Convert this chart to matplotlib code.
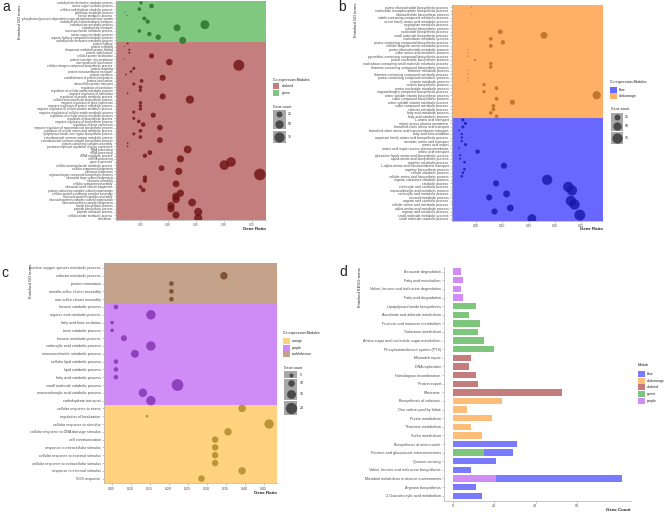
import matplotlib
matplotlib.use('Agg')
import matplotlib.pyplot as plt
from matplotlib.patches import Rectangle
import numpy as np

nan = np.nan

# ---------------- panel a : GO terms, modules green / darkred ----------------
a_green_terms = [
    'carbohydrate derivative catabolic process', 'amino sugar catabolic process',
    'cellular carbohydrate catabolic process', 'galactose metabolic process',
    'hexitol metabolic process',
    'phosphoenolpyruvate-dependent sugar phosphotransferase system',
    'carbohydrate transmembrane transport', 'carbohydrate metabolic process',
    'carbohydrate transport', 'monosaccharide metabolic process',
    'amino sugar metabolic process', 'organic hydroxy compound metabolic process',
    'carbohydrate derivative metabolic process']
a_green_ratio = [0.051, 0.070, 0.048, 0.022, 0.026, 0.057, 0.063, 0.166, 0.116,
                 0.048, 0.066, 0.082, 0.126]
a_green_count = [8, 16, 10, 1, 1, 12, 14, 57, 34, 10, 14, 21, 34]

a_darkred_terms = [
    'protein folding', 'protein refolding', 'chaperone-mediated protein folding',
    'protein stabilization', 'cellular protein localization',
    'protein insertion into membrane', 'macromolecule localization',
    'cellular nitrogen compound biosynthetic process', 'protein targeting',
    'protein transmembrane transport', 'protein secretion',
    'establishment of protein localization', 'protein localization',
    'intracellular protein transport', 'regulation of translation',
    'regulation of cellular amide metabolic process',
    'negative regulation of translation', 'regulation of protein metabolic process',
    'cellular macromolecule biosynthetic process',
    'negative regulation of gene expression',
    'negative regulation of protein metabolic process',
    'negative regulation of cellular protein metabolic process',
    'negative regulation of cellular amide metabolic process',
    'regulation of cellular protein metabolic process',
    'regulation of biosynthetic process', 'negative regulation of biosynthetic process',
    'regulation of gene expression',
    'negative regulation of macromolecule biosynthetic process',
    'regulation of cellular amino acid metabolic process',
    'lipopolysaccharide core region biosynthetic process',
    'enterobacterial common antigen metabolic process',
    'enterobacterial common antigen biosynthetic process',
    'protein-containing complex assembly',
    'posttranscriptional regulation of gene expression', 'RNA processing',
    'rRNA processing', 'rRNA metabolic process', 'ncRNA processing',
    'gene expression', 'cellular macromolecule metabolic process',
    'cellular component biogenesis', 'ribosome biogenesis',
    'organonitrogen compound biosynthetic process',
    'ribosomal large subunit biogenesis', 'ribosome assembly',
    'cellular component assembly', 'ribosomal small subunit biogenesis',
    'protein-containing complex subunit organization',
    'cellular protein-containing complex assembly',
    'ribonucleoprotein complex assembly',
    'ribonucleoprotein complex subunit organization',
    'ribonucleoprotein complex biogenesis', 'amide biosynthetic process',
    'peptide biosynthetic process', 'peptide metabolic process',
    'cellular amide metabolic process', 'translation']
a_darkred_ratio = [0.027, 0.021, 0.030, 0.030, 0.070, 0.021, 0.102, 0.227, 0.038, 0.033,
                   0.024, 0.090, 0.052, 0.038, 0.050, 0.050, 0.027, 0.090, 0.139, 0.050,
                   0.050, 0.050, 0.038, 0.073, 0.038, 0.047, 0.055, 0.085, 0.050, 0.038,
                   0.050, 0.085, 0.027, 0.027, 0.135, 0.067, 0.058, 0.122, 0.213, 0.201,
                   0.088, 0.119, 0.265, 0.058, 0.058, 0.114, 0.050, 0.055, 0.122, 0.114,
                   0.114, 0.143, 0.105, 0.105, 0.154, 0.114, 0.154]
a_darkred_count = [3, 1, 3, 3, 19, 1, 30, 86, 7, 5, 2, 27, 10, 7, 10, 8, 2, 27, 48, 8,
                   8, 8, 7, 19, 7, 10, 14, 24, 10, 7, 10, 24, 2, 2, 44, 16, 14, 37, 66, 66,
                   24, 37, 97, 14, 14, 34, 10, 14, 37, 41, 41, 44, 37, 37, 48, 37, 48]

# ---------------- panel b : GO terms, modules darkorange / blue ----------------
b_orange_terms = [
    'purine ribonucleotide biosynthetic process',
    'nucleoside monophosphate biosynthetic process',
    'ribonucleotide biosynthetic process',
    'indole-containing compound metabolic process',
    'serine family amino acid metabolic process', 'tryptophan metabolic process',
    'cofactor biosynthetic process', 'nucleotide biosynthetic process',
    'small molecule biosynthetic process', 'nucleobase metabolic process',
    'purine-containing compound biosynthetic process',
    'cellular biogenic amine metabolic process',
    'purine ribonucleotide metabolic process', 'sulfur amino acid metabolic process',
    'pyrimidine-containing compound biosynthetic process',
    'purine nucleotide biosynthetic process',
    'nucleobase-containing small molecule metabolic process',
    'thiamine-containing compound biosynthetic process', 'thiamine metabolic process',
    'thiamine-containing compound metabolic process',
    'purine-containing compound metabolic process', 'vitamin metabolic process',
    'vitamin biosynthetic process', 'purine nucleotide metabolic process',
    'organonitrogen compound biosynthetic process',
    'water-soluble vitamin biosynthetic process',
    'sulfur compound biosynthetic process',
    'water-soluble vitamin metabolic process', 'sulfur compound metabolic process',
    'cofactor metabolic process', 'fatty acid metabolic process',
    'fatty acid catabolic process']
b_orange_ratio = [0.041, nan, 0.042, nan, nan, nan, nan, 0.096, 0.179, 0.078, 0.101,
                  0.078, 0.035, 0.035, 0.035, 0.048, 0.078, 0.078, 0.035, 0.035, 0.035,
                  0.035, 0.065, 0.089, 0.065, 0.279, 0.089, 0.119, 0.083, 0.083, 0.078,
                  0.089]
b_orange_count = [1, 1, 1, 1, 1, 1, 1, 16, 34, 10, 14, 10, 1, 1, 1, 3, 8, 8, 1, 1, 1,
                  1, 8, 10, 8, 48, 10, 19, 10, 10, 10, 10]

b_blue_terms = [
    'L-amino acid transport', 'import across plasma membrane',
    'branched-chain amino acid transport',
    'branched-chain amino acid transmembrane transport', 'fatty acid beta-oxidation',
    'aspartate family amino acid biosynthetic process',
    'aromatic amino acid transport', 'amino acid import',
    'amino acid import across plasma membrane', 'amino acid transport',
    'glutamine family amino acid biosynthetic process',
    'alpha-amino acid biosynthetic process', 'arginine metabolic process',
    'L-alpha-amino acid transmembrane transport', 'arginine biosynthetic process',
    'cellular catabolic process', 'cellular amino acid biosynthetic process',
    'organic substance catabolic process', 'catabolic process',
    'carboxylic acid catabolic process', 'monocarboxylic acid metabolic process',
    'carboxylic acid metabolic process', 'oxoacid metabolic process',
    'organic acid catabolic process', 'cellular amino acid metabolic process',
    'alpha-amino acid metabolic process', 'organic acid metabolic process',
    'small molecule metabolic process', 'small molecule catabolic process']
b_blue_ratio = [0.025, 0.030, 0.025, 0.018, 0.023, 0.023, 0.023, 0.030, 0.018, 0.053,
                0.020, 0.020, 0.028, 0.103, 0.028, 0.025, 0.023, 0.185, 0.088, 0.225,
                0.232, 0.108, 0.075, 0.230, 0.237, 0.115, 0.085, 0.247, 0.156]
b_blue_count = [7, 7, 7, 2, 4, 4, 4, 7, 2, 14, 3, 3, 5, 27, 5, 5, 5, 76, 27, 76,
                76, 34, 27, 76, 76, 34, 27, 86, 57]

# ---------------- panel c : GO terms, saddlebrown / purple / orange ----------------
c_brown_terms = ['reactive oxygen species metabolic process', 'cofactor metabolic process',
                 'protein maturation', 'metallo-sulfur cluster assembly',
                 'iron-sulfur cluster assembly']
c_brown_ratio = [nan, 0.345, 0.207, 0.207, 0.207]
c_brown_count = [1, 12, 6, 6, 6]

c_purple_terms = ['hexose catabolic process', 'organic acid catabolic process',
                  'fatty acid beta-oxidation', 'toxin catabolic process',
                  'hexose metabolic process', 'carboxylic acid catabolic process',
                  'monosaccharide metabolic process', 'cellular lipid catabolic process',
                  'lipid catabolic process', 'fatty acid catabolic process',
                  'small molecule catabolic process',
                  'monocarboxylic acid catabolic process', 'carbohydrate transport']
c_purple_ratio = [0.061, 0.153, 0.051, 0.051, 0.082, 0.153, 0.111, 0.061, 0.061, 0.061,
                  0.223, 0.132, 0.153]
c_purple_count = [6, 16, 4, 4, 9, 16, 13, 6, 6, 6, 21, 14, 16]

c_orange_terms = ['cellular response to stress', 'regulation of localization',
                  'cellular response to stimulus',
                  'cellular response to DNA damage stimulus', 'cell communication',
                  'response to extracellular stimulus',
                  'cellular response to external stimulus',
                  'cellular response to extracellular stimulus',
                  'response to external stimulus', 'SOS response']
c_orange_ratio = [0.393, 0.143, 0.464, 0.356, 0.322, 0.322, 0.322, 0.322, 0.393, 0.286]
c_orange_count = [12, 2, 16, 12, 10, 10, 10, 10, 12, 10]

# ---------------- panel d : KEGG terms ----------------
d_terms = ['Benzoate degradation', 'Fatty acid metabolism',
           'Valine, leucine and isoleucine degradation', 'Fatty acid degradation',
           'Lipopolysaccharide biosynthesis', 'Ascorbate and aldarate metabolism',
           'Fructose and mannose metabolism', 'Galactose metabolism',
           'Amino sugar and nucleotide sugar metabolism',
           'Phosphotransferase system (PTS)', 'Mismatch repair', 'DNA replication',
           'Homologous recombination', 'Protein export', 'Ribosome',
           'Biosynthesis of cofactors', 'One carbon pool by folate', 'Purine metabolism',
           'Thiamine metabolism', 'Sulfur metabolism', 'Biosynthesis of amino acids',
           'Pentose and glucuronate interconversions', 'Quorum sensing',
           'Valine, leucine and isoleucine biosynthesis',
           'Microbial metabolism in diverse environments', 'Arginine biosynthesis',
           '2-Oxocarboxylic acid metabolism']
d_purple = [4, 5, 4, 5, 0, 0, 0, 0, 0, 0, 0, 0, 0, 0, 0, 0, 0, 0, 0, 0, 0, 0, 0, 0, 21, 0, 0]
d_green = [0, 0, 0, 0, 11, 8, 13, 12, 15, 20, 0, 0, 0, 0, 0, 0, 0, 0, 0, 0, 0, 15, 0, 0, 0, 0, 0]
d_darkred = [0, 0, 0, 0, 0, 0, 0, 0, 0, 0, 9, 8, 11, 12, 53, 0, 0, 0, 0, 0, 0, 0, 0, 0, 0, 0, 0]
d_darkorange = [0, 0, 0, 0, 0, 0, 0, 0, 0, 0, 0, 0, 0, 0, 0, 24, 7, 19, 9, 14, 0, 0, 0, 0, 0, 0, 0]
d_blue = [0, 0, 0, 0, 0, 0, 0, 0, 0, 0, 0, 0, 0, 0, 0, 0, 0, 0, 0, 0, 31, 14, 21, 9, 61, 11, 14]

# colours (background = module colour at half alpha, points darker)
bg = {'green': '#80c880', 'darkred': '#c57e7e', 'darkorange': '#ffb066', 'blue': '#6868ff',
      'saddlebrown': '#c5a28a', 'purple': '#d08cf6', 'orange': '#ffd27f'}
pt = {'green': '#236f23', 'darkred': '#6e1212', 'darkorange': '#b06a20', 'blue': '#1616a8',
      'saddlebrown': '#6e4020', 'purple': '#8030b0', 'orange': '#b08425'}
bar_col = {'blue': '#7a7aff', 'darkorange': '#ffbd7a', 'darkred': '#c47c7c',
           'green': '#7ec57e', 'purple': '#d28cf5'}

plt.rcParams['font.family'] = ['Liberation Sans', 'DejaVu Sans']
W, H = 668, 513
fig = plt.figure(figsize=(W / 100, H / 100), dpi=100)
TXT = '#4d4d4d'


def rect(x0, y0, x1, y1):
    return [x0 / W, 1 - y1 / H, (x1 - x0) / W, (y1 - y0) / H]


def size_ab(n):
    d = 1.18 * np.sqrt(np.asarray(n, dtype=float))
    return (d * 0.72) ** 2


def size_c(n):
    d = 1.7 + 0.48 * np.asarray(n, dtype=float)
    return (d * 0.72) ** 2


def style_axis(ax, fs):
    for s in ['top', 'right']:
        ax.spines[s].set_visible(False)
    for s in ['left', 'bottom']:
        ax.spines[s].set_color('#b0b0b0')
        ax.spines[s].set_linewidth(0.5)
    ax.tick_params(length=1.5, width=0.4, color='#9a9a9a', pad=1,
                   labelsize=fs, labelcolor=TXT)


def go_panel(box, blocks, size_fn, xlim, xticks, fs_y, fs_x):
    ax = fig.add_axes(rect(*box))
    terms = [t for b in blocks for t in b[1]]
    n = len(terms)
    start = 0
    for mod, tl, ratio, count in blocks:
        k = len(tl)
        lo = -0.6 if start == 0 else start - 0.5
        hi = n - 0.4 if start + k == n else start + k - 0.5
        ax.axhspan(lo, hi, color=bg[mod], lw=0, zorder=0)
        ax.scatter(ratio, np.arange(start, start + k), s=size_fn(count),
                   color=pt[mod], alpha=0.8, lw=0, zorder=2)
        start += k
    ax.set_ylim(n - 0.4, -0.6)
    ax.set_xlim(*xlim)
    ax.set_yticks(np.arange(n))
    ax.set_yticklabels(terms)
    ax.set_xticks(xticks)
    ax.set_xticklabels(['%.2f' % v for v in xticks])
    style_axis(ax, fs_x)
    ax.tick_params(axis='y', labelsize=fs_y)
    return ax


go_panel((116, 1, 266, 220),
         [('green', a_green_terms, a_green_ratio, a_green_count),
          ('darkred', a_darkred_terms, a_darkred_ratio, a_darkred_count)],
         size_ab, (0.006, 0.276), [0.05, 0.10, 0.15, 0.20, 0.25], 2.2, 2.2)
go_panel((452, 5, 603, 220.7),
         [('darkorange', b_orange_terms, b_orange_ratio, b_orange_count),
          ('blue', b_blue_terms, b_blue_ratio, b_blue_count)],
         size_ab, (0.0044, 0.291), [0.05, 0.10, 0.15, 0.20, 0.25], 2.4, 2.3)
go_panel((104.3, 263.3, 276.7, 483.3),
         [('saddlebrown', c_brown_terms, c_brown_ratio, c_brown_count),
          ('purple', c_purple_terms, c_purple_ratio, c_purple_count),
          ('orange', c_orange_terms, c_orange_ratio, c_orange_count)],
         size_c, (0.0305, 0.484), [0.05, 0.10, 0.15, 0.20, 0.25, 0.30, 0.35, 0.40, 0.45],
         2.7, 2.6)

# panel d: stacked horizontal bars
axd = fig.add_axes(rect(444.3, 266.5, 630.7, 500.9))
yd = np.arange(len(d_terms))
left = np.zeros(len(d_terms))
for mod, vals in [('purple', d_purple), ('green', d_green), ('darkred', d_darkred),
                  ('darkorange', d_darkorange), ('blue', d_blue)]:
    vals = np.array(vals, dtype=float)
    axd.barh(yd, vals, left=left, height=0.74, color=bar_col[mod], lw=0)
    left += vals
axd.set_ylim(len(d_terms) - 0.4, -0.6)
axd.set_xlim(-4.1, 86)
axd.set_yticks(yd)
axd.set_yticklabels(d_terms)
axd.set_xticks([0, 20, 40, 60])
style_axis(axd, 2.7)

# overlay for titles and legends (pixel coordinates)
ov = fig.add_axes([0, 0, 1, 1], zorder=5)
ov.set_xlim(0, W)
ov.set_ylim(H, 0)
ov.axis('off')

for x, y, s in [(6, 7, 'a'), (342, 7, 'b'), (5, 273, 'c'), (343, 272, 'd')]:
    ov.text(x, y, s, fontsize=10, ha='center', va='center', color='#222222')

for x, y, s in [(20, 5, 'Enriched GO terms'), (356, 3, 'Enriched GO terms'),
                (30.5, 264, 'Enriched GO terms'), (360, 267, 'Enriched KEGG terms')]:
    ov.text(x, y, s, fontsize=2.9, rotation=90, ha='center', va='top', color='#222222')

for x, y, s in [(266, 229, 'Gene Ratio'), (603, 229, 'Gene Ratio'),
                (276.7, 492.7, 'Gene Ratio'), (630.7, 510, 'Gene Count')]:
    ov.text(x, y, s, fontsize=3.2, fontweight='bold', ha='right', va='center',
            color='#222222')


def module_legend(x, y, title, mods, ys, fill):
    ov.text(x, y, title, fontsize=2.5, va='center', ha='left', color='#222222')
    for m, yy in zip(mods, ys):
        ov.add_patch(Rectangle((x, yy - 3), 6.5, 6, color=fill[m], lw=0))
        ov.text(x + 9, yy, m, fontsize=2.5, va='center', ha='left', color='#222222')


def size_legend(x, y, values, ys, size_fn, bw):
    ov.text(x, y, 'Gene count', fontsize=2.5, va='center', ha='left', color='#222222')
    for v, yy in zip(values, ys):
        d = np.sqrt(size_fn(v)) / 0.72
        h = max(d + 2.5, 6)
        ov.add_patch(Rectangle((x, yy - h / 2), bw, h, color='#a8a8a8', lw=0))
        ov.scatter([x + bw / 2], [yy], s=size_fn(v), color='#4a4a4a', lw=0, zorder=3)
        ov.text(x + bw + 2.5, yy, str(v), fontsize=2.5, va='center', ha='left',
                color='#222222')


module_legend(272.7, 80, 'Co-expression Modules', ['darkred', 'green'], [86.3, 93], bg)
size_legend(273, 107, [25, 50, 75], [114.3, 124, 137], size_ab, 12.7)
module_legend(610, 82, 'Co-expression Modules', ['blue', 'darkorange'], [89.7, 96], bg)
size_legend(610.7, 109.3, [25, 50, 75], [117, 126, 138], size_ab, 12)
module_legend(283, 333.3, 'Co-expression Modules', ['orange', 'purple', 'saddlebrown'],
              [340.7, 347.7, 354], bg)
size_legend(284, 367.7, [5, 10, 15, 20], [374.7, 383, 394, 408], size_c, 13)
module_legend(638, 365.3, 'Module', ['blue', 'darkorange', 'darkred', 'green', 'purple'],
              [373.7, 380.7, 387.3, 394, 401], bar_col)

fig.savefig('out.png', dpi=100)
